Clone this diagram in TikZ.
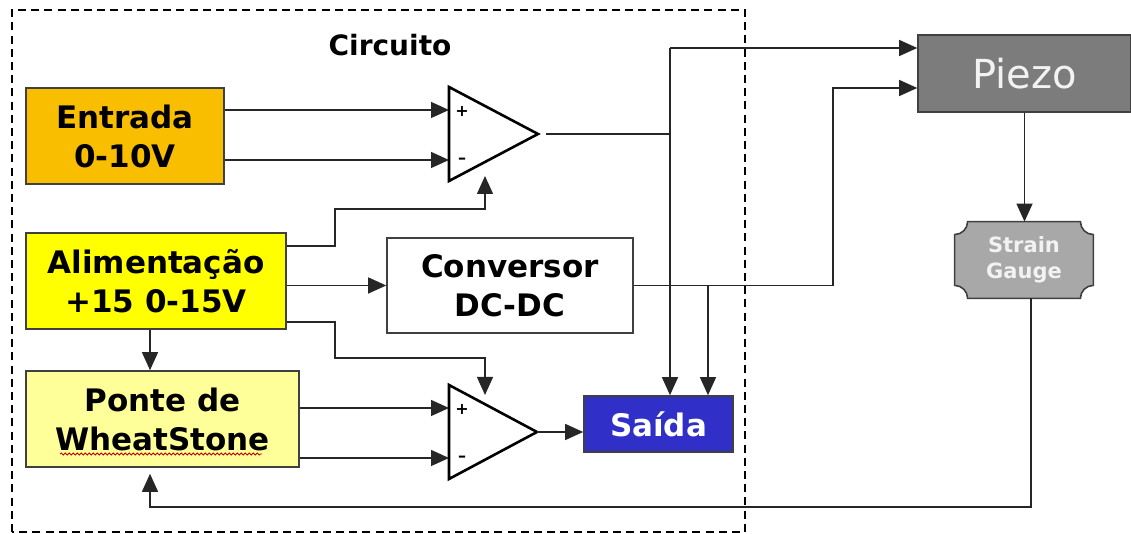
\documentclass[tikz,border=0pt]{standalone}
\usepackage{fontspec}
\setmainfont{DejaVu Sans}
\usepackage{xcolor}
\usetikzlibrary{arrows.meta,positioning,backgrounds,decorations.pathmorphing}

\definecolor{entradaor}{HTML}{F9BE00}
\definecolor{alimyel}{HTML}{FFFF00}
\definecolor{ponteyel}{HTML}{FFFF99}
\definecolor{saidablue}{HTML}{3030C8}
\definecolor{piezogray}{HTML}{7C7C7C}
\definecolor{straingray}{HTML}{A8A8A8}

\begin{document}
\begin{tikzpicture}[
      x=0.5pt, y=0.5pt,
      >={Triangle[length=9pt,width=8pt]},
      box/.style={draw=black!75, line width=0.8pt, align=center, inner sep=0pt,
        font=\bfseries\fontsize{15.5}{19.5}\selectfont},
      flow/.style={->, line width=0.7pt, draw=black!85},
      wire/.style={line width=0.7pt, draw=black!85},
      amp/.style={line width=1.3pt, line join=miter},
      sign/.style={font=\bfseries\fontsize{8}{8}\selectfont, inner sep=0pt},
      title/.style={font=\bfseries\fontsize{14}{14}\selectfont},
      frame/.style={line width=1pt, dash pattern=on 4pt off 2.6pt},
      spell/.style={draw=red!75!black, line width=0.4pt,
        decorate, decoration={snake, amplitude=0.5pt, segment length=2pt}}]
    \useasboundingbox (0,0) rectangle (1131,534);

    % circuit frame
    \draw[frame] (12,2) rectangle (745,524);
    \node[title] (circuito) at (390,489) {Circuito};

    % blocks
    \node[box, fill=entradaor, minimum width=99pt, minimum height=48pt] (entrada) at (125,398) {Entrada\\0-10V};
    \node[box, fill=alimyel, minimum width=130pt, minimum height=48pt] (alim) at (156,253) {Alimentação\\+15 0-15V};
    \node[box, fill=ponteyel, minimum width=136.5pt, minimum height=48pt] (ponte) at (162.5,115) {Ponte de\\WheatStone};
    \node[box, fill=white, minimum width=123pt, minimum height=47.5pt] (conv) at (510,248.5) {Conversor\\DC-DC};
    \node[box, fill=saidablue, text=white, minimum width=74.5pt, minimum height=28pt] (saida) at (658.5,110) {Saída};
    \node[box, fill=piezogray, text=white!95!black, font=\fontsize{20}{20}\selectfont,
      minimum width=106.5pt, minimum height=38.5pt] (piezo) at (1024.5,460.5) {Piezo};
    \node[text=white!95!black, font=\bfseries\fontsize{10.5}{13}\selectfont, align=center,
      minimum width=69pt, minimum height=38pt, inner sep=0pt] (strain) at (1024,274) {Strain\\Gauge};
    \begin{scope}[on background layer]
      \draw[draw=black!75, line width=0.8pt, fill=straingray]
        ([xshift=6.5pt]strain.north west) -- ([xshift=-6.5pt]strain.north east)
        arc[start angle=180, end angle=270, radius=6.5pt]
        -- ([yshift=6.5pt]strain.south east)
        arc[start angle=90, end angle=180, radius=6.5pt]
        -- ([xshift=6.5pt]strain.south west)
        arc[start angle=0, end angle=90, radius=6.5pt]
        -- ([yshift=-6.5pt]strain.north west)
        arc[start angle=-90, end angle=0, radius=6.5pt] -- cycle;
    \end{scope}
    \draw[spell] (60,80) -- (262,80);

    % amplifiers
    \coordinate (op1) at (449,400);
    \draw[amp] (op1) ++(0,47) -- ++(89,-47) coordinate (op1out) -- ++(-89,-47) -- cycle;
    \node[sign] (op1p) at (462,423) {+};
    \node[sign] (op1m) at (462,373) {–};
    \coordinate (op2) at (449,102);
    \draw[amp] (op2) ++(0,47) -- ++(88,-47) coordinate (op2out) -- ++(-88,-47) -- cycle;
    \node[sign] (op2p) at (462,125) {+};
    \node[sign] (op2m) at (462,75) {–};
    \coordinate (op1in1) at (449,424);
    \coordinate (op1in2) at (449,374);
    \coordinate (op2in1) at (449,126);
    \coordinate (op2in2) at (449,76);
    \coordinate (op1v) at (485,358);
    \coordinate (op2v) at (485,139);

    % junctions
    \coordinate (j1) at (670,486);
    \coordinate (j2) at (708,248.5);
    \coordinate (j3) at (833,446);
    \coordinate (fb) at (150,27);

    % connections
    \draw[flow] (entrada.east |- op1in1) -- (op1in1);
    \draw[flow] (entrada.east |- op1in2) -- (op1in2);
    \draw[flow] ([yshift=17.5pt]alim.east) -| (335,325) -| (op1v);
    \draw[flow] (alim.east |- conv) -- (conv);
    \draw[flow] ([yshift=-20.5pt]alim.east) -| (335,176) -| (op2v);
    \draw[flow] ([xshift=-3pt]alim.south) -- ([xshift=-3pt]alim.south |- ponte.north);
    \draw[flow] (ponte.east |- op2in1) -- (op2in1);
    \draw[flow] (ponte.east |- op2in2) -- (op2in2);
    \draw[flow] (op2out) -- (saida.west |- op2out);
    \draw[wire] ([xshift=4pt]op1out) -- (j1 |- op1out);
    \draw[flow] (j1) -- (piezo.west |- j1);
    \draw[flow] (j1) -- (j1 |- saida.north);
    \draw[flow] (conv.east) -- (j3 |- conv.east) -- (j3) -- (piezo.west |- j3);
    \draw[flow] (j2) -- (j2 |- saida.north);
    \draw[flow] (piezo.south) -- (piezo.south |- strain.north);
    \draw[flow, shorten >=3pt] ([xshift=3.5pt]strain.south) |- (fb) -- (fb |- ponte.south);
\end{tikzpicture}
\end{document}
